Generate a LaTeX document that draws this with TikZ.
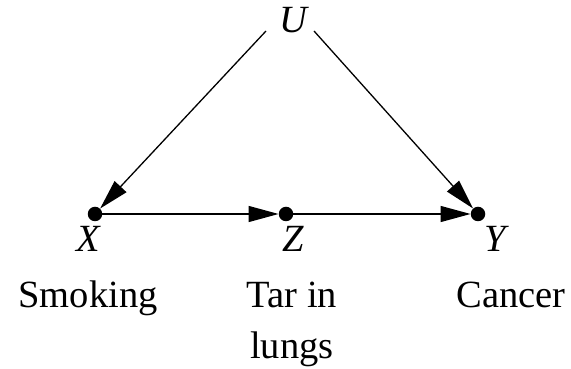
\documentclass[tikz,border=0pt]{standalone}
\usepackage{fontspec}
\setmainfont{Liberation Serif}
\usetikzlibrary{arrows.meta}
\begin{document}
\begin{tikzpicture}[x=1pt,y=1pt,
  dotnode/.style={circle,fill=black,inner sep=0pt,minimum size=14.5pt},
  lbl/.style={inner sep=0pt,anchor=base,font=\fontsize{38.5}{52}\selectfont},
  txt/.style={inner sep=0pt,anchor=base,font=\fontsize{38.5}{52}\selectfont,align=center},
  arr/.style={line width=1.3pt,-{Triangle[length=30pt,width=16pt]}}]
\useasboundingbox (0,0) rectangle (571,369);
\node[dotnode] (X) at (95,155) {};
\node[dotnode] (Z) at (286,155) {};
\node[dotnode] (Y) at (478,155) {};
\node[lbl] (U) at (294,336) {\textit{U}};
\coordinate (u1) at (266,338);
\coordinate (u2) at (314,338);
\node[lbl] (Xl) at (89,117) {\textit{X}};
\node[lbl] (Zl) at (293,117) {\textit{Z}};
\node[lbl] (Yl) at (497,117) {\textit{Y}};
\node[txt] (smk) at (88,61) {Smoking};
\node[txt] (tar) at (292,61) {Tar in};
\node[txt] (lng) at (292,10) {lungs};
\node[txt] (cnc) at (511,61) {Cancer};
\draw[arr] (u1) -- (X);
\draw[arr] (u2) -- (Y);
\draw[arr] (X) -- (Z);
\draw[arr] (Z) -- (Y);
\end{tikzpicture}
\end{document}
